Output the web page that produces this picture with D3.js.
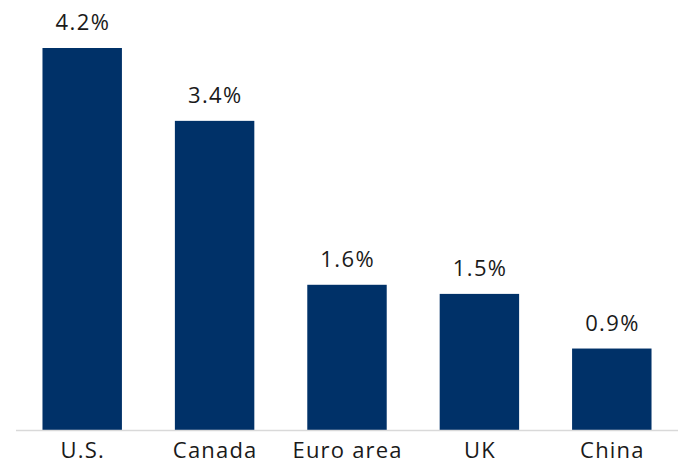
<!DOCTYPE html>
<html><head><meta charset="utf-8">
<script src="https://cdn.jsdelivr.net/npm/d3@7"></script>
<style>body{margin:0;background:#fff;}svg{display:block;}</style>
</head><body>
<svg id="c" width="681" height="462"></svg>
<script>
const categories = ["U.S.", "Canada", "Euro area", "UK", "China"];
const values = [4.2, 3.4, 1.6, 1.5, 0.9];
const labels = ["4.2%", "3.4%", "1.6%", "1.5%", "0.9%"];

const svg = d3.select("#c");
const font = "'Open Sans', sans-serif";
const x = d3.scaleBand().domain(categories).range([16, 678]).paddingInner(0.4).paddingOuter(0.2);
const y = d3.scaleLinear().domain([0, 4.2]).range([430.5, 48]);

svg.selectAll("rect.bar").data(values).enter().append("rect")
  .attr("x", (d,i) => x(categories[i]))
  .attr("width", x.bandwidth())
  .attr("y", d => y(d))
  .attr("height", d => y(0) - y(d))
  .attr("fill", "#003168");

svg.append("line").attr("x1", 16).attr("x2", 678).attr("y1", y(0)).attr("y2", y(0))
  .attr("stroke", "#d9d9d9").attr("stroke-width", 1.5);

svg.selectAll("text.val").data(values).enter().append("text")
  .attr("x", (d,i) => x(categories[i]) + x.bandwidth()/2 + 0.7)
  .attr("y", d => y(d) - 17.7)
  .attr("text-anchor", "middle")
  .attr("font-family", font).attr("font-size", 22).attr("letter-spacing", 1.4)
  .attr("fill", "#1a1a1a")
  .text((d,i) => labels[i]);

const xa = d3.axisBottom(x).tickSize(0).tickPadding(0);
const g = svg.append("g").attr("transform", `translate(0,${y(0)})`).call(xa);
g.select(".domain").remove();
g.selectAll("text").attr("font-family", font).attr("font-size", 22).attr("letter-spacing", 1.2)
  .attr("fill", "#1a1a1a").attr("dx", 0.6)
  .attr("dy", null).attr("y", 27.8);
</script>
</body></html>
